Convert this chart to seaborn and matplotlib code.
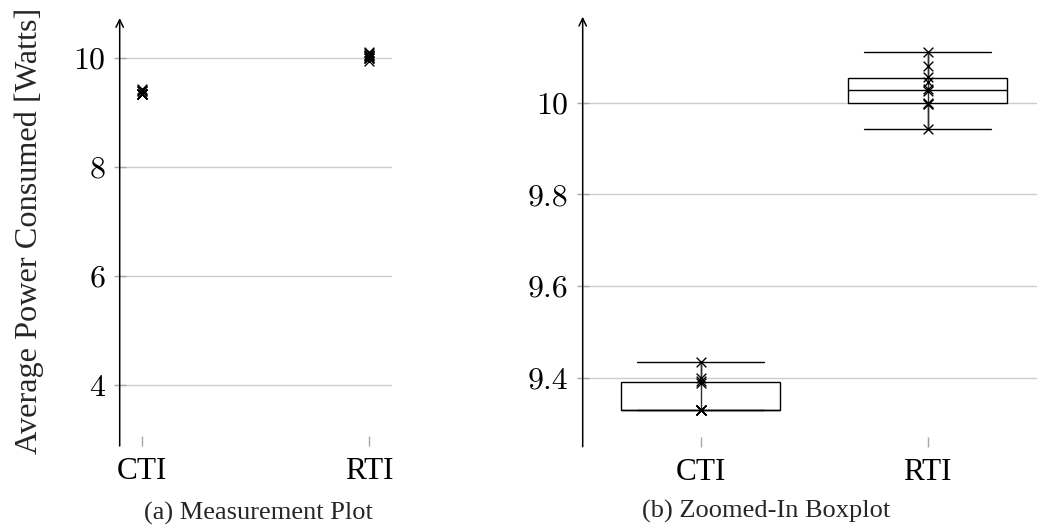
#!/usr/bin/env python3
"""Average power of CTI vs RTI: raw measurements and a zoomed-in boxplot."""

import matplotlib

matplotlib.use("Agg")
import matplotlib.pyplot as plt
import pandas as pd
import seaborn as sns

# average power per run [W]
CTI_POWER = [9.330, 9.330, 9.330, 9.330, 9.330, 9.330, 9.388, 9.392, 9.400, 9.434]
RTI_POWER = [9.943, 9.997, 9.998, 9.999, 10.026, 10.030, 10.045, 10.057, 10.080, 10.111]
METHODS = ["CTI", "RTI"]

LEFT_YTICKS = [4, 6, 8, 10]
LEFT_YTICK_LABELS = ["4", "6", "8", "10"]
RIGHT_YTICKS = [9.4, 9.6, 9.8, 10.0]
RIGHT_YTICK_LABELS = ["9.4", "9.6", "9.8", "10"]

YLABEL = "Average Power Consumed [Watts]"
CAPTIONS = ["(a) Measurement Plot", "(b) Zoomed-In Boxplot"]

SERIF = "Liberation Serif"
NUM_FONT = "cmr10"
GRID_GREY = "#cccccc"
TICK_GREY = "#a8a8a8"
W, H = 1037, 530


def style_axis(ax, yticks, ylabels, xlim, ylim):
    ax.set_xlim(xlim)
    ax.set_ylim(ylim)
    ax.set_xticks([0, 1], METHODS)
    ax.set_yticks(yticks, ylabels)
    for lab in ax.get_xticklabels():
        lab.set_fontfamily(SERIF)
        lab.set_fontsize(22.5)
    for lab in ax.get_yticklabels():
        lab.set_fontfamily(NUM_FONT)
        lab.set_fontsize(23)
    ax.set_xlabel("")
    ax.set_ylabel("")
    ax.yaxis.grid(True, color=GRID_GREY, lw=1)
    ax.xaxis.grid(False)
    ax.set_axisbelow(True)
    for sp in ax.spines.values():
        sp.set_visible(False)
    ax.tick_params(axis="y", direction="inout", length=8.6, width=1, color=TICK_GREY,
                   pad=6, left=True, labelcolor="black")
    ax.tick_params(axis="x", direction="in", length=7.2, width=1, color=TICK_GREY,
                   pad=8, bottom=True, labelcolor="black")
    # pgfplots-style y axis line with an arrow tip
    ax.annotate("", xy=(0, 1), xytext=(0, 0), xycoords="axes fraction",
                arrowprops=dict(arrowstyle="->,head_length=0.45,head_width=0.22",
                                lw=1.1, color="black", shrinkA=0, shrinkB=0))


def draw_runs(ax, df):
    # the runs are joined by a vertical line (min..max) and marked with crosses
    sns.pointplot(data=df, x="method", y="power", order=METHODS, errorbar=("pi", 100),
                  linestyle="none", marker="", color="#303030",
                  err_kws={"linewidth": 1}, ax=ax)
    sns.stripplot(data=df, x="method", y="power", order=METHODS, jitter=False,
                  marker="x", color="black", size=7, linewidth=1, zorder=5, ax=ax)


def main() -> None:
    sns.set_theme(style="white")
    plt.rcParams["font.family"] = [SERIF, "DejaVu Serif"]
    plt.rcParams["axes.formatter.use_mathtext"] = True

    df = pd.DataFrame({
        "method": ["CTI"] * len(CTI_POWER) + ["RTI"] * len(RTI_POWER),
        "power": CTI_POWER + RTI_POWER,
    })

    fig = plt.figure(figsize=(W / 100, H / 100), dpi=100)
    ax_l = fig.add_axes([119.7 / W, 1 - 446 / H, 272 / W, 428 / H])
    ax_r = fig.add_axes([582.7 / W, 1 - 446.7 / H, 458.5 / W, 430 / H])

    # (a) all measurements
    draw_runs(ax_l, df)
    style_axis(ax_l, LEFT_YTICKS, LEFT_YTICK_LABELS, (-0.1, 1.1), (2.882, 10.728))

    # (b) boxplot with the runs on top
    sns.boxplot(data=df, x="method", y="power", order=METHODS, width=0.7,
                color="white", linecolor="black", linewidth=1, showfliers=False,
                capwidths=0.56, ax=ax_r)
    draw_runs(ax_r, df)
    style_axis(ax_r, RIGHT_YTICKS, RIGHT_YTICK_LABELS, (-0.52, 1.5), (9.2494, 10.1876))

    fig.text(29 / W, 1 - 231 / H, YLABEL, rotation=90, ha="center", va="center",
             fontsize=23.2, family=SERIF)
    fig.text(258 / W, 1 - 513 / H, CAPTIONS[0], ha="center", va="center", fontsize=19, family=SERIF)
    fig.text(766 / W, 1 - 511 / H, CAPTIONS[1], ha="center", va="center", fontsize=19, family=SERIF)

    fig.savefig("out.png", dpi=100)
    plt.close(fig)


if __name__ == "__main__":
    main()
